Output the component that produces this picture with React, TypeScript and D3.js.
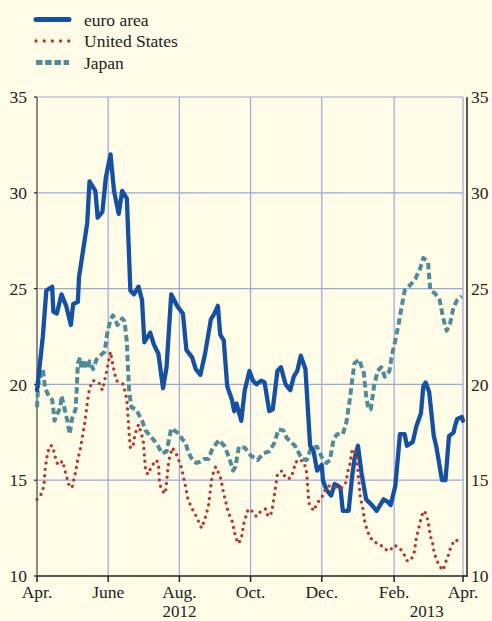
import React from "react";
import * as d3 from "d3";

// day offsets from 1 April 2012
const euro: [number, number][] = [
  [0, 19.7], [5, 22.5], [8, 24.9], [13, 25.1], [14, 23.8], [17, 23.7], [21, 24.7], [25, 24.1],
  [29, 23.1], [31, 24.2], [35, 24.3], [36, 25.6], [40, 27.2], [43, 28.4], [45, 30.6], [50, 30.1],
  [52, 28.7], [56, 29.0], [59, 30.8], [63, 32.0], [66, 30.1], [70, 28.9], [73, 30.1], [77, 29.7],
  [80, 24.9], [83, 24.7], [87, 25.1], [90, 24.4], [92, 22.2], [97, 22.7], [100, 22.1], [104, 21.6],
  [108, 19.8], [111, 20.9], [115, 24.7], [120, 24.1], [125, 23.7], [128, 21.8], [133, 21.4],
  [136, 20.8], [140, 20.5], [144, 21.6], [149, 23.4], [152, 23.7], [155, 24.1], [157, 22.6],
  [160, 22.3], [163, 19.9], [167, 19.2], [169, 18.6], [171, 19.0], [175, 18.1], [178, 19.7],
  [182, 20.7], [185, 20.2], [188, 20.0], [192, 20.2], [195, 20.1], [199, 18.6], [202, 18.7],
  [206, 20.7], [209, 20.9], [213, 20.0], [217, 19.7], [220, 20.4], [223, 20.7], [226, 21.5],
  [230, 20.8], [234, 16.8], [237, 16.5], [240, 15.5], [244, 15.8], [245, 15.0], [248, 14.5],
  [252, 14.2], [255, 14.8], [258, 14.7], [260, 14.6], [262, 13.4], [267, 13.4], [270, 15.2],
  [272, 16.1], [275, 16.8], [278, 15.4], [282, 14.0], [287, 13.7], [291, 13.4], [297, 14.0],
  [300, 13.9], [303, 13.7], [307, 14.7], [311, 17.4], [315, 17.4], [317, 16.8], [322, 17.0],
  [325, 17.8], [329, 18.5], [331, 19.9], [333, 20.1], [336, 19.6], [340, 17.3], [342, 16.8],
  [347, 15.0], [350, 15.0], [353, 17.3], [357, 17.5], [358, 17.8], [360, 18.2], [364, 18.3],
  [365, 18.1],
];

const unitedStates: [number, number][] = [
  [0, 14.0], [4, 14.3], [6, 14.75], [7, 15.6], [9, 16.4], [11, 16.8], [13, 16.8], [15, 16.4],
  [16, 16.1], [18, 15.8], [22, 16.0], [24, 15.5], [27, 14.8], [30, 14.6], [31, 14.9], [33, 15.4],
  [35, 16.1], [37, 16.6], [39, 17.3], [41, 18.0], [43, 19.0], [45, 19.8], [48, 20.2], [53, 20.1],
  [56, 19.7], [59, 20.5], [63, 21.7], [65, 21.0], [68, 20.2], [71, 20.1], [74, 20.0], [77, 19.2],
  [78, 18.3], [79, 17.4], [80, 16.7], [82, 16.7], [84, 17.4], [87, 17.9], [91, 17.1], [92, 16.3],
  [93, 15.5], [95, 15.3], [98, 15.7], [102, 16.05], [104, 15.9], [105, 14.8], [108, 14.4],
  [110, 14.3], [112, 15.5], [113, 16.05], [116, 16.7], [120, 16.3], [124, 15.6], [127, 14.75],
  [129, 14.1], [132, 13.6], [135, 13.3], [138, 12.9], [141, 12.5], [144, 13.0], [147, 13.7],
  [150, 15.2], [153, 15.7], [157, 15.2], [160, 14.3], [164, 13.3], [167, 12.9], [170, 12.1],
  [172, 11.7], [175, 11.9], [177, 12.7], [181, 13.5], [184, 13.4], [188, 13.1], [192, 13.4],
  [196, 13.5], [198, 13.1], [201, 13.3], [203, 14.05], [205, 14.9], [206, 15.3], [210, 15.5],
  [213, 15.1], [217, 15.1], [220, 15.5], [221, 15.9], [225, 16.1], [229, 15.9], [231, 15.4],
  [232, 14.6], [233, 13.8], [237, 13.4], [240, 13.8], [244, 14.1], [247, 14.5], [250, 14.7],
  [253, 14.7], [257, 14.6], [261, 14.6], [265, 14.9], [266, 15.4], [268, 15.8], [269, 16.2],
  [270, 16.6], [272, 16.6], [274, 16.1], [275, 15.4], [276, 14.8], [277, 14.1], [279, 13.6],
  [280, 13.2], [281, 12.75], [283, 12.4], [285, 12.05], [289, 11.75], [293, 11.7], [298, 11.4],
  [302, 11.3], [306, 11.6], [310, 11.5], [314, 11.2], [317, 10.8], [320, 10.8], [323, 11.15],
  [325, 11.97], [328, 12.75], [330, 13.2], [332, 13.4], [335, 12.9], [337, 12.1], [339, 11.7],
  [340, 11.3], [342, 10.9], [345, 10.5], [348, 10.3], [350, 10.7], [352, 11.0], [354, 11.4],
  [357, 11.8], [359, 11.9], [362, 11.7],
];

const japan: [number, number][] = [
  [0, 18.8], [1, 20.0], [5, 20.8], [7, 19.8], [10, 19.4], [13, 19.2], [14, 18.7], [15, 18.1],
  [17, 18.4], [20, 18.8], [21, 19.4], [23, 18.9], [26, 18.1], [28, 17.4], [30, 18.2], [33, 18.7],
  [34, 19.7], [35, 21.1], [37, 21.4], [38, 20.8], [40, 21.3], [43, 20.8], [45, 21.2], [48, 20.8],
  [51, 21.3], [54, 21.5], [58, 21.7], [60, 22.6], [63, 23.4], [65, 23.6], [69, 23.1], [73, 23.45],
  [75, 23.3], [77, 22.2], [78, 20.8], [79, 19.6], [81, 18.8], [85, 18.7], [90, 18.1], [93, 17.6],
  [100, 17.1], [104, 16.75], [107, 16.4], [111, 16.5], [113, 17.1], [115, 17.7], [120, 17.5],
  [122, 17.4], [125, 17.1], [127, 17.0], [130, 16.4], [134, 15.97], [137, 15.9], [140, 15.97],
  [143, 16.1], [147, 16.1], [150, 16.6], [151, 16.7], [156, 17.1], [161, 16.75], [165, 16.1],
  [168, 15.5], [170, 15.7], [173, 16.75], [178, 16.7], [183, 16.3], [189, 16.05], [194, 16.4],
  [199, 16.5], [203, 16.9], [207, 17.65], [211, 17.6], [214, 17.2], [221, 16.8], [227, 16.1],
  [231, 16.05], [235, 16.7], [240, 16.75], [244, 16.2], [248, 15.9], [251, 16.05], [254, 17.1],
  [257, 17.4], [262, 17.4], [265, 18.0], [268, 19.2], [270, 20.2], [272, 21.1], [276, 21.3],
  [280, 20.6], [282, 19.4], [284, 18.7], [286, 18.7], [289, 20.0], [292, 20.7], [295, 20.9],
  [298, 20.4], [302, 20.7], [304, 21.5], [307, 22.3], [310, 23.2], [312, 23.9], [315, 24.9],
  [320, 25.2], [324, 25.5], [328, 26.0], [331, 26.6], [335, 26.4], [337, 24.9], [341, 24.75],
  [345, 24.4], [348, 23.45], [351, 22.8], [354, 23.2], [357, 24.05], [360, 24.4], [364, 24.6],
];

const yTicks = [10, 15, 20, 25, 30, 35];
const monthLabels = ["Apr.", "June", "Aug.", "Oct.", "Dec.", "Feb.", "Apr."];
const yearLabels: [string, Date][] = [
  ["2012", new Date(2012, 7, 1)],
  ["2013", new Date(2013, 2, 1)],
];

const W = 492;
const H = 621;
const m = { left: 37, right: 463, top: 97, bottom: 576 };
const font = "'Liberation Serif', 'Times New Roman', serif";

const start = new Date(2012, 3, 1);
const end = new Date(2013, 3, 1);

const x = d3.scaleTime().domain([start, end]).range([m.left, m.right]);
const y = d3.scaleLinear().domain([10, 35]).range([m.bottom, m.top]);
const monthTicks = d3.timeMonth.range(start, d3.timeDay.offset(end, 1), 2);

const lineGen = d3
  .line<[number, number]>()
  .x((d) => x(d3.timeDay.offset(start, d[0])))
  .y((d) => y(d[1]));

const series = [
  { name: "Japan", data: japan, color: "#4f8b9b", width: 4, dash: "6.5 3.5", cap: "butt" },
  { name: "euro area", data: euro, color: "#1550a1", width: 4.3, dash: undefined, cap: "round" },
  { name: "United States", data: unitedStates, color: "#b23a30", width: 3.4, dash: "0 6.4", cap: "round" },
];

const legend = [series[1], series[2], series[0]];

export default function App() {
  return (
    <svg
      width={W}
      height={H}
      style={{ position: "absolute", left: 0, top: 0, display: "block" }}
      fontFamily={font}
    >
      <rect width={W} height={H} fill="#fefce7" />

      {/* grid */}
      {yTicks.filter((t) => t > 10).map((t) => (
        <line key={"h" + t} x1={m.left} x2={m.right} y1={y(t)} y2={y(t)} stroke="#9ba6e0" strokeWidth={1.2} />
      ))}
      {monthTicks.slice(1).map((d, i) => (
        <line key={"v" + i} x1={x(d)} x2={x(d)} y1={m.top} y2={m.bottom} stroke="#9ba6e0" strokeWidth={1.2} />
      ))}

      {/* axes */}
      <line x1={m.left} x2={m.left} y1={m.top} y2={m.bottom} stroke="#8a8a80" strokeWidth={2} />
      <line x1={m.right + 4} x2={m.right + 4} y1={m.top} y2={m.bottom + 1} stroke="#222" strokeWidth={1.5} />
      <line x1={m.left} x2={m.right + 4} y1={m.bottom} y2={m.bottom} stroke="#222" strokeWidth={1.5} />
      {yTicks.map((t) => (
        <line key={"lt" + t} x1={m.left - 3} x2={m.left} y1={y(t)} y2={y(t)} stroke="#222" strokeWidth={1.2} />
      ))}
      {monthTicks.map((d, i) => (
        <line key={"bt" + i} x1={x(d)} x2={x(d)} y1={m.bottom} y2={m.bottom + 6} stroke="#222" strokeWidth={1.5} />
      ))}

      {/* series */}
      {series.map((s) => (
        <path
          key={s.name}
          d={lineGen(s.data) || ""}
          fill="none"
          stroke={s.color}
          strokeWidth={s.width}
          strokeDasharray={s.dash}
          strokeLinecap={s.cap as any}
          strokeLinejoin="round"
        />
      ))}

      {/* tick labels */}
      {yTicks.map((t) => (
        <g key={"yl" + t} fontSize={17.5} fill="#222">
          <text x={27} y={y(t)} dy="0.35em" textAnchor="end">{t}</text>
          <text x={471} y={y(t)} dy="0.35em" textAnchor="start">{t}</text>
        </g>
      ))}
      {monthTicks.map((d, i) => (
        <text key={"ml" + i} x={x(d)} y={597.5} textAnchor="middle" fontSize={17.5} fill="#222">
          {monthLabels[i]}
        </text>
      ))}
      {yearLabels.map(([label, d]) => (
        <text key={label} x={x(d)} y={617} textAnchor="middle" fontSize={17} fill="#222">
          {label}
        </text>
      ))}

      {/* legend */}
      {legend.map((s, i) => (
        <g key={"lg" + s.name} transform={`translate(0, ${19.5 + i * 21.5})`}>
          <line
            x1={36}
            x2={69}
            y1={0}
            y2={0}
            stroke={s.color}
            strokeWidth={s.name === "United States" ? 3.4 : 5}
            strokeDasharray={s.name === "United States" ? "0 8.2" : s.name === "Japan" ? "6.5 2.7" : undefined}
            strokeLinecap={s.cap as any}
          />
          <text x={84} y={6} fontSize={17.5} fill="#222">{s.name}</text>
        </g>
      ))}
    </svg>
  );
}
